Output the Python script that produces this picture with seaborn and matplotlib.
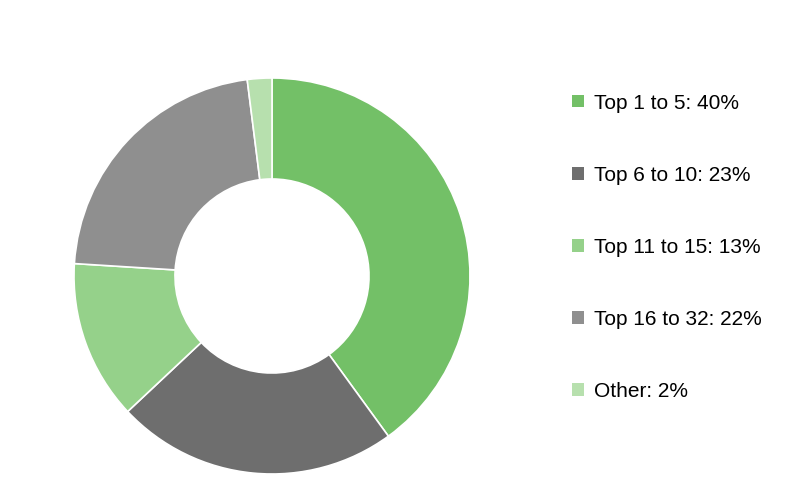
import matplotlib
matplotlib.use("Agg")
import matplotlib.pyplot as plt
import seaborn as sns
from matplotlib.patches import Patch

# data
categories = ["Top 1 to 5", "Top 6 to 10", "Top 11 to 15", "Top 16 to 32", "Other"]
shares = [40, 23, 13, 22, 2]
colors = ["#73C067", "#6E6E6E", "#95D18A", "#8F8F8F", "#B7E0AE"]

sns.set_style("white")
plt.rcParams["font.family"] = ["Liberation Sans", "DejaVu Sans"]
plt.rcParams["text.color"] = "black"

fig = plt.figure(figsize=(8, 4.8), dpi=100)
ax = fig.add_axes([0.0925, 0.0125, 0.495, 0.825])

ax.pie(shares, colors=colors, startangle=90, counterclock=False, radius=1,
       wedgeprops=dict(width=0.51, edgecolor="white", linewidth=1.2))
ax.set_xlim(-1, 1)
ax.set_ylim(-1, 1)
ax.set_aspect("equal")
ax.axis("off")

labels = [f"{c}: {v}%" for c, v in zip(categories, shares)]
handles = [Patch(facecolor=c, edgecolor="none") for c in colors]
fig.legend(handles, labels, loc="upper left", bbox_to_anchor=(0.705, 0.8225),
           frameon=False, fontsize=15, labelspacing=2.55,
           handlelength=0.55, handleheight=0.55, handletextpad=0.5,
           borderaxespad=0, labelcolor="black")

fig.savefig("out.png", dpi=100)
